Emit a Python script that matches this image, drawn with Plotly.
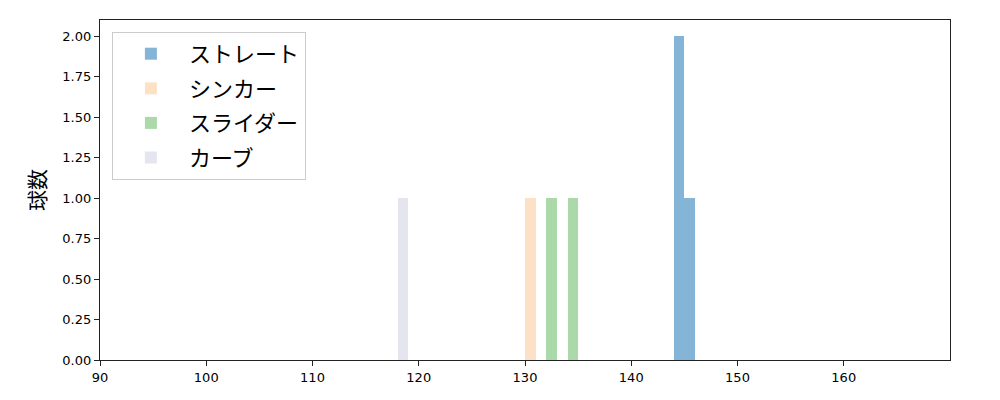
import plotly.graph_objects as go

# Data: histogram bins (left edges) and counts, bin width = 1 km/h
straight_bins = [144, 145]
straight_counts = [2, 1]
sinker_bins = [130]
sinker_counts = [1]
slider_bins = [132, 134]
slider_counts = [1, 1]
curve_bins = [118]
curve_counts = [1]

series = [
    ("ストレート", straight_bins, straight_counts, "rgba(31,119,180,0.55)"),
    ("シンカー", sinker_bins, sinker_counts, "rgba(252,205,160,0.6)"),
    ("スライダー", slider_bins, slider_counts, "rgba(89,180,86,0.5)"),
    ("カーブ", curve_bins, curve_counts, "rgba(208,208,228,0.55)"),
]

x_ticks = [90, 100, 110, 120, 130, 140, 150, 160]
y_ticks = [0, 0.25, 0.5, 0.75, 1.0, 1.25, 1.5, 1.75, 2.0]

fig = go.Figure()
for i, (name, bins, counts, color) in enumerate(series):
    fig.add_trace(go.Bar(
        x=bins, y=counts, name=name, width=[1] * len(bins), offset=0,
        marker=dict(color=color, line=dict(width=0)),
        legendgroup=f"g{i}",
    ))

font_family = "Noto Sans CJK JP, DejaVu Sans, sans-serif"
fig.update_layout(
    width=1000, height=400,
    margin=dict(l=92, r=58, t=12, b=48),
    plot_bgcolor="white", paper_bgcolor="white",
    barmode="overlay", bargap=0,
    font=dict(family=font_family, color="black", size=13),
    legend=dict(
        x=0.014, y=0.965, xanchor="left", yanchor="top",
        bgcolor="rgba(255,255,255,0.8)", bordercolor="#cccccc", borderwidth=1,
        font=dict(size=22, family=font_family), tracegroupgap=3,
        itemwidth=66,
    ),
    xaxis=dict(
        range=[90, 170], tickvals=x_ticks, ticks="outside", ticklen=5, tickwidth=1.3,
        tickcolor="#222", showline=True, linecolor="#222", linewidth=1.3, mirror=True,
        showgrid=False, zeroline=False, tickfont=dict(size=13, family="DejaVu Sans"),
    ),
    yaxis=dict(
        range=[0, 2.1], tickvals=y_ticks, tickformat=".2f", ticks="outside", ticklen=5,
        tickwidth=1.3, tickcolor="#222", showline=True, linecolor="#222", linewidth=1.3,
        mirror=True, showgrid=False, zeroline=False,
        tickfont=dict(size=13, family="DejaVu Sans"),
        title=dict(text="球数", font=dict(size=21, family=font_family), standoff=10),
    ),
)

fig.write_html("out.html")
